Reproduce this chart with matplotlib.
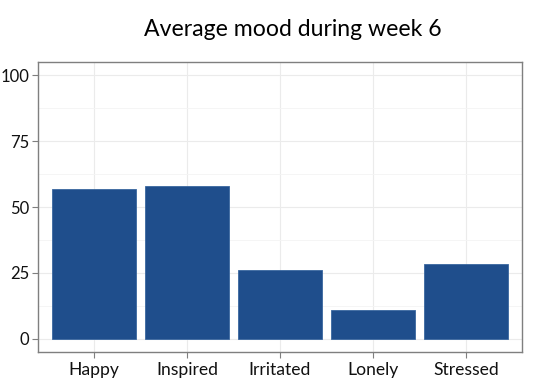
import numpy as np
import matplotlib
matplotlib.use("Agg")
import matplotlib.pyplot as plt
from matplotlib.ticker import MultipleLocator

moods = ["Happy", "Inspired", "Irritated", "Lonely", "Stressed"]
mood_avg = [56.9, 58.1, 26.2, 11.0, 28.2]
y_ticks = [0, 25, 50, 75, 100]

plt.rcParams["font.family"] = ["Lato", "DejaVu Sans"]

fig = plt.figure(figsize=(5.45, 3.89), dpi=100)
ax = fig.add_axes([38 / 545, 37 / 389, 484 / 545, 290 / 389])

x = np.arange(1, len(moods) + 1)
ax.bar(x, mood_avg, width=0.9, color="#1f4e8c", edgecolor="#3a679f",
       linewidth=0.6, zorder=3)

ax.set_xlim(0.4, 5.6)
ax.set_ylim(-5, 105)
ax.set_xticks(x)
ax.set_xticklabels(moods)
ax.set_yticks(y_ticks)
ax.yaxis.set_minor_locator(MultipleLocator(12.5))

ax.grid(True, which="major", color="#ebebeb", lw=0.8, zorder=0)
ax.grid(True, which="minor", axis="y", color="#f4f4f4", lw=0.6, zorder=0)
ax.tick_params(which="minor", length=0)
ax.tick_params(which="major", length=4, color="#7f7f7f", width=0.8,
               labelcolor="#111111", pad=3)
ax.tick_params(axis="x", labelsize=12.6)
ax.tick_params(axis="y", labelsize=12, pad=2.5)
for s in ax.spines.values():
    s.set_color("#7f7f7f")
    s.set_linewidth(1.0)

fig.text(0.538, 0.925, "Average mood during week 6", ha="center", va="center",
         fontsize=16.6)

fig.savefig("out.png", dpi=100)
